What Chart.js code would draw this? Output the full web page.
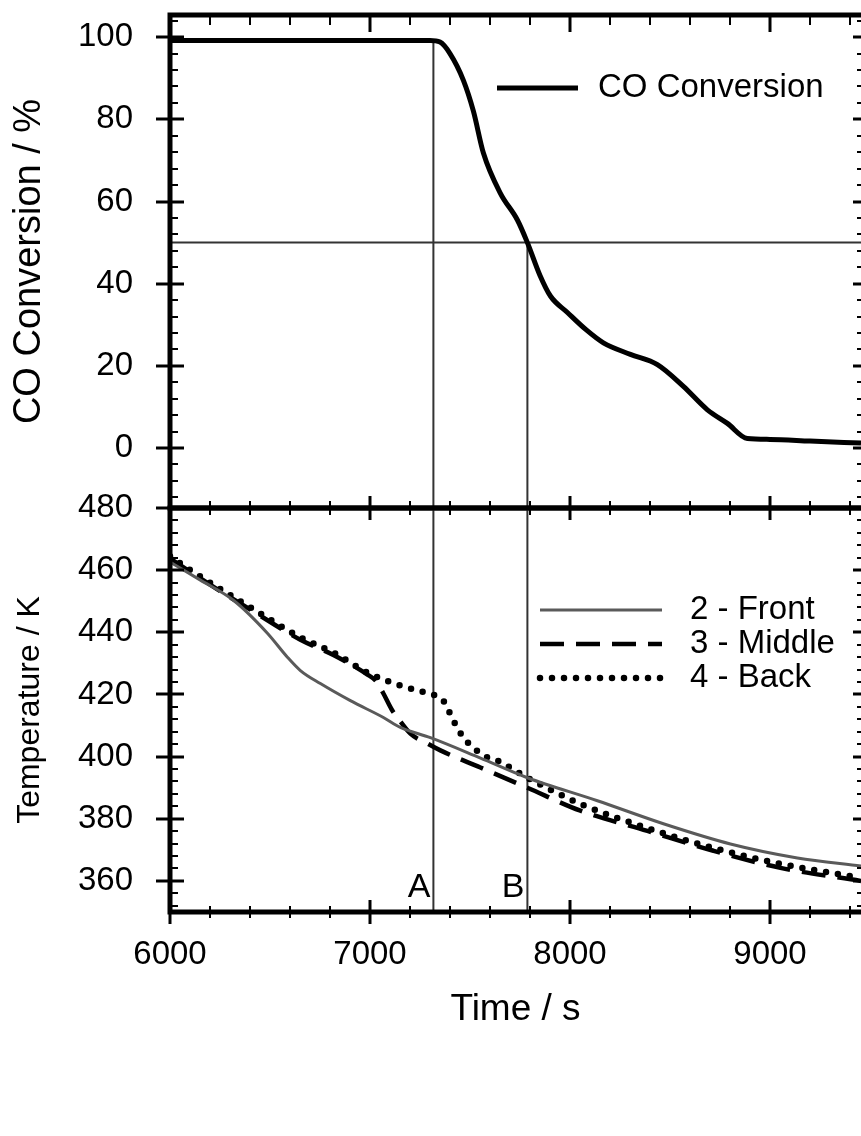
<!DOCTYPE html>
<html>
<head>
<meta charset="utf-8">
<script src="https://cdn.jsdelivr.net/npm/chart.js@4.4.0/dist/chart.umd.min.js"></script>
<style>
  html, body { margin: 0; padding: 0; background: #fff; }
  #wrap { position: relative; width: 861px; height: 1136px; }
  canvas { position: absolute; left: 0; top: 0; }
</style>
</head>
<body>
<div id="wrap">
  <canvas id="co-chart" width="861" height="1136"></canvas>
  <canvas id="temp-chart" width="861" height="1136"></canvas>
</div>
<script>
// axis ticks
const timeTicks = [6000, 7000, 8000, 9000];
const coTicks = [0, 20, 40, 60, 80, 100];
const tempTicks = [360, 380, 400, 420, 440, 460, 480];

// top panel: CO conversion (%)
const coTime = [6000, 6500, 7000, 7300, 7350, 7400, 7467, 7517, 7567, 7652, 7737, 7787, 7850, 7902, 7987, 8080, 8167, 8302, 8437, 8567, 8687, 8787, 8887, 9000, 9200, 9455];
const coValues = [99.2, 99.2, 99.2, 99.2, 98.8, 96, 89.5, 82, 71.8, 62, 55.5, 50, 42, 37, 33, 28.8, 25.6, 22.8, 20.3, 15, 9.3, 6, 2.3, 2.1, 1.7, 1.2];

// bottom panel: thermocouple temperatures (K)
const frontTime = [6000, 6152, 6317, 6487, 6587, 6652, 6752, 6902, 7067, 7152, 7302, 7550, 7787, 8137, 8467, 8802, 9137, 9455];
const frontTemp = [462.6, 456.8, 450.3, 439.7, 432, 427.7, 423.5, 418, 412.6, 409.4, 406.1, 399.6, 393.2, 385.8, 378.4, 371.9, 367.4, 364.8];

const middleTime = [6000, 6237, 6402, 6652, 6817, 6987, 7030, 7067, 7110, 7137, 7202, 7287, 7352, 7552, 7787, 8052, 8387, 8717, 9052, 9455];
const middleTemp = [463.8, 453.8, 447.3, 437.6, 432.7, 426.4, 424.3, 420.3, 415, 412.6, 407.4, 404.2, 402, 396.5, 390, 382.6, 376.1, 369.7, 364.2, 360];

const backTime = [6000, 6087, 6237, 6402, 6652, 6817, 6987, 7152, 7277, 7330, 7367, 7417, 7467, 7517, 7567, 7637, 7787, 8052, 8387, 8717, 9052, 9455];
const backTemp = [464.5, 460.6, 454.5, 448, 438.4, 433.5, 427, 422.9, 420.6, 419.6, 418, 411.6, 406.1, 402.9, 400.3, 398.7, 393.2, 384.8, 377, 370.6, 365.5, 361];

// marker lines
const markerA = 7317;
const markerB = 7787;
const halfConversion = 50;

const X_MIN = 6000, X_MAX = 9455;
const CO_MIN = -14.6, CO_MAX = 105.4;
const T_MIN = 350, T_MAX = 480;

const FONT = "'Liberation Sans', Arial, Helvetica, sans-serif";

const pts = (xs, ys) => xs.map((x, i) => ({ x: x, y: ys[i] }));

function seg(ctx, x1, y1, x2, y2, w) {
  ctx.lineWidth = w;
  ctx.beginPath();
  ctx.moveTo(x1, y1);
  ctx.lineTo(x2, y2);
  ctx.stroke();
}

// frame, inward/outward ticks, legend and A/B labels
const framePlugin = {
  id: "frame",
  afterDraw(chart, args, o) {
    const { ctx, chartArea: a } = chart;
    const xs = chart.scales.x, ys = chart.scales.y;
    ctx.save();
    ctx.strokeStyle = "#000";
    ctx.fillStyle = "#000";
    ctx.lineCap = "butt";

    ctx.lineWidth = 5;
    ctx.beginPath();
    ctx.moveTo(a.right, a.top); ctx.lineTo(a.left, a.top);
    ctx.moveTo(a.left, a.top - 2.5); ctx.lineTo(a.left, a.bottom + 2.5);
    ctx.moveTo(a.left, a.bottom); ctx.lineTo(a.right, a.bottom);
    ctx.stroke();

    for (let t = X_MIN; t <= xs.max; t += 200) {
      const px = Math.round(xs.getPixelForValue(t));
      const major = timeTicks.includes(t);
      if (o.top) {
        const l = major ? o.top.major : o.top.minor;
        seg(ctx, px, a.top - l[0], px, a.top + l[1], major ? 3 : 2);
      }
      if (o.bottom) {
        const l = major ? o.bottom.major : o.bottom.minor;
        seg(ctx, px, a.bottom - l[0], px, a.bottom + l[1], major ? 3 : 2);
      }
    }

    const yStart = Math.ceil(ys.min / 4) * 4;
    for (let v = yStart; v <= ys.max; v += 4) {
      const py = Math.round(ys.getPixelForValue(v));
      const major = o.yTicks.includes(v);
      if (py < a.top - 1 || py > a.bottom + 1) continue;
      if (major) {
        seg(ctx, a.left - 14, py, a.left + 14, py, 3);
        seg(ctx, a.right - 8, py, a.right, py, 3);
      } else {
        seg(ctx, a.left, py, a.left + 8, py, 2);
        seg(ctx, a.right - 4, py, a.right, py, 2);
      }
    }

    // legend
    const lg = o.legend;
    ctx.font = "33px " + FONT;
    ctx.textBaseline = "middle";
    ctx.textAlign = "left";
    lg.items.forEach((di, i) => {
      const ds = chart.data.datasets[di];
      const y = lg.y + i * lg.dy;
      ctx.save();
      ctx.strokeStyle = ds.borderColor;
      ctx.lineCap = ds.borderCapStyle || "butt";
      ctx.setLineDash(ds.borderDash || []);
      seg(ctx, lg.x, y, lg.x + lg.len, y, ds.borderWidth);
      ctx.restore();
      ctx.fillText(ds.label, lg.x + lg.len + lg.gap, y);
    });

    if (o.marks) {
      ctx.font = "34px " + FONT;
      ctx.textAlign = "right";
      o.marks.forEach(m => {
        ctx.fillText(m.text, xs.getPixelForValue(m.x) - 3, ys.getPixelForValue(m.y));
      });
    }
    ctx.restore();
  }
};

const refLine = (data) => ({
  label: "",
  data: data,
  borderColor: "#333",
  borderWidth: 2,
  pointRadius: 0,
  tension: 0,
  fill: false
});

const yAxis = (min, max, ticks, title, titleSize, titlePad) => ({
  type: "linear",
  min: min,
  max: max,
  afterBuildTicks: (s) => { s.ticks = ticks.map(v => ({ value: v })); },
  afterFit: (s) => { s.width = 170; s.paddingTop = 0; s.paddingBottom = 0; },
  grid: { display: false, drawTicks: false, tickLength: 0 },
  border: { display: false },
  ticks: { color: "#000", padding: 37, font: { family: FONT, size: 33 } },
  title: { display: true, text: title, color: "#000", padding: { top: titlePad, bottom: 0 }, font: { family: FONT, size: titleSize } }
});

// top chart: CO conversion
new Chart(document.getElementById("co-chart"), {
  type: "line",
  data: {
    datasets: [
      {
        label: "CO Conversion",
        data: pts(coTime, coValues),
        borderColor: "#000",
        borderWidth: 5,
        pointRadius: 0,
        cubicInterpolationMode: "monotone",
        fill: false
      },
      refLine([{ x: X_MIN, y: halfConversion }, { x: X_MAX, y: halfConversion }]),
      refLine([{ x: markerA, y: coValues[0] }, { x: markerA, y: CO_MIN }]),
      refLine([{ x: markerB, y: halfConversion }, { x: markerB, y: CO_MIN }])
    ]
  },
  options: {
    responsive: false,
    animation: false,
    layout: { padding: { left: 0, right: 0, top: 15, bottom: 628 } },
    plugins: {
      legend: { display: false },
      tooltip: { enabled: false },
      frame: {
        yTicks: coTicks,
        top: { major: [0, 17], minor: [0, 10] },
        bottom: null,
        legend: { x: 497, y: 88, dy: 0, len: 81, gap: 20, items: [0] }
      }
    },
    scales: {
      x: { type: "linear", min: X_MIN, max: X_MAX, display: false },
      y: yAxis(CO_MIN, CO_MAX, coTicks, "CO Conversion / %", 38, 7)
    }
  },
  plugins: [framePlugin]
});

// bottom chart: temperatures
new Chart(document.getElementById("temp-chart"), {
  type: "line",
  data: {
    datasets: [
      {
        label: "2 - Front",
        data: pts(frontTime, frontTemp),
        borderColor: "#5a5a5a",
        borderWidth: 3,
        pointRadius: 0,
        cubicInterpolationMode: "monotone",
        fill: false
      },
      {
        label: "3 - Middle",
        data: pts(middleTime, middleTemp),
        borderColor: "#000",
        borderWidth: 4.5,
        borderDash: [24, 12],
        pointRadius: 0,
        cubicInterpolationMode: "monotone",
        fill: false
      },
      {
        label: "4 - Back",
        data: pts(backTime, backTemp),
        borderColor: "#000",
        borderWidth: 6.5,
        borderDash: [0, 12],
        borderCapStyle: "round",
        pointRadius: 0,
        cubicInterpolationMode: "monotone",
        fill: false
      },
      refLine([{ x: markerA, y: T_MIN }, { x: markerA, y: T_MAX }]),
      refLine([{ x: markerB, y: T_MIN }, { x: markerB, y: T_MAX }])
    ]
  },
  options: {
    responsive: false,
    animation: false,
    layout: { padding: { left: 0, right: 0, top: 508, bottom: 0 } },
    plugins: {
      legend: { display: false },
      tooltip: { enabled: false },
      frame: {
        yTicks: tempTicks,
        top: { major: [12, 12], minor: [7, 7] },
        bottom: { major: [12, 12], minor: [6, 6] },
        legend: { x: 540, y: 610, dy: 34, len: 122, gap: 28, items: [0, 1, 2] },
        marks: [{ text: "A", x: markerA, y: 358 }, { text: "B", x: markerB, y: 358 }]
      }
    },
    scales: {
      x: {
        type: "linear",
        min: X_MIN,
        max: X_MAX,
        afterBuildTicks: (s) => { s.ticks = timeTicks.map(v => ({ value: v })); },
        afterFit: (s) => { s.height = 224; },
        grid: { display: false, drawTicks: false, tickLength: 0 },
        border: { display: false },
        ticks: { color: "#000", padding: 23, maxRotation: 0, font: { family: FONT, size: 33 }, callback: (v) => String(v) },
        title: { display: true, text: "Time / s", color: "#000", padding: { top: 0, bottom: 104 }, font: { family: FONT, size: 37 } }
      },
      y: yAxis(T_MIN, T_MAX, tempTicks, "Temperature / K", 32, 11)
    }
  },
  plugins: [framePlugin]
});
</script>
</body>
</html>
